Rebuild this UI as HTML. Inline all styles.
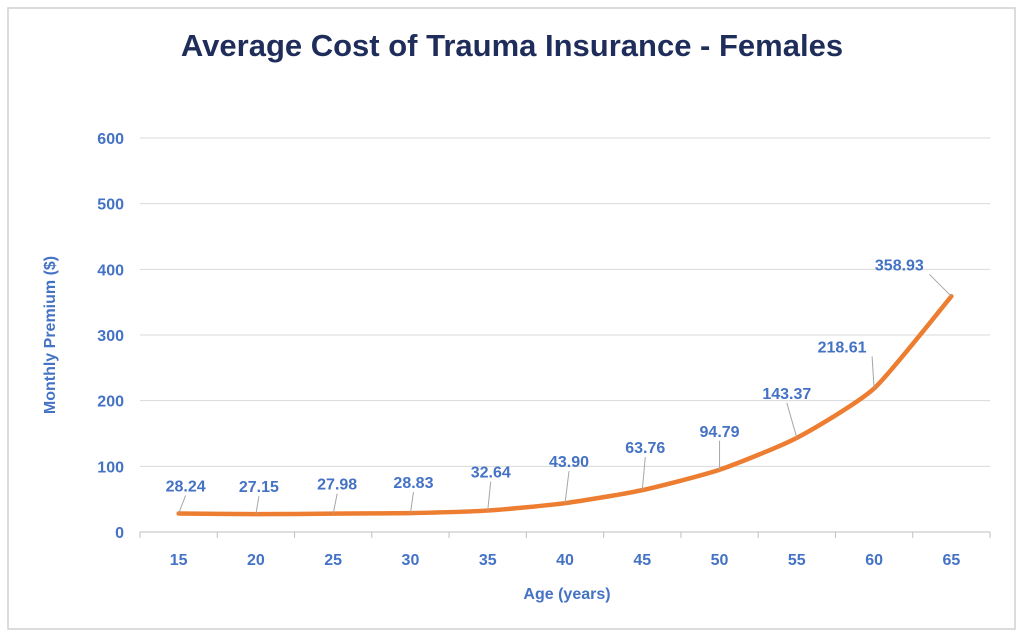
<!DOCTYPE html>
<html><head><meta charset="utf-8"><style>
html,body{margin:0;padding:0;background:#fff;}
svg{display:block;font-family:"Liberation Sans",sans-serif;}
</style></head><body>
<svg id="chart" width="1024" height="638" viewBox="0 0 1024 638">
<rect x="8" y="8" width="1007" height="621" fill="#fff" stroke="#d0d0d0" stroke-width="1.5"/>
<text x="512" y="56" text-anchor="middle" font-size="31" font-weight="bold" fill="#1f2d5a">Average Cost of Trauma Insurance - Females</text>
<g id="grid"></g><g id="axes"></g><g id="series"></g><g id="labels"></g>
<text x="567" y="599" text-anchor="middle" font-size="16" font-weight="bold" fill="#4472c4">Age (years)</text>
<text transform="translate(55,335) rotate(-90)" text-anchor="middle" font-size="16" font-weight="bold" fill="#4472c4">Monthly Premium ($)</text>
</svg>
<script>
const categories=[15,20,25,30,35,40,45,50,55,60,65];
const premiums=[28.24,27.15,27.98,28.83,32.64,43.90,63.76,94.79,143.37,218.61,358.93];
const priceLabels=["28.24","27.15","27.98","28.83","32.64","43.90","63.76","94.79","143.37","218.61","358.93"];
const yTicks=[0,100,200,300,400,500,600];
const labelDx=[7,3,4,3,3,4,3,0,-10,-32,-52];
const labelDy=[22,22,24,25,33,36,37,33,39,36,26];
const NS="http://www.w3.org/2000/svg";
const X0=140,X1=990,Y0=532,Y1=138,YMAX=600;
const bw=(X1-X0)/categories.length;
const xs=i=>X0+bw*(i+0.5);
const ys=v=>Y0-(v/YMAX)*(Y0-Y1);
function mk(t,a,p){const e=document.createElementNS(NS,t);for(const k in a)e.setAttribute(k,a[k]);p.appendChild(e);return e;}
const grid=document.getElementById('grid'),axes=document.getElementById('axes'),ser=document.getElementById('series'),lab=document.getElementById('labels');
yTicks.forEach(v=>{
 const l=mk('line',{x1:X0,x2:X1,y1:ys(v),y2:ys(v),stroke:v===0?'#bfbfbf':'#d9d9d9','stroke-width':1},grid);
 
 
 const t=mk('text',{x:X0-16,y:ys(v)+6,'text-anchor':'end','font-size':16,'font-weight':'bold',fill:'#4472c4'},axes);
 t.textContent=v;
 
 
});
for(let i=0;i<=categories.length;i++){
 const tk=mk('line',{x1:X0+bw*i,x2:X0+bw*i,y1:Y0,y2:Y0+6,stroke:'#bfbfbf'},axes);
 
 
}
categories.forEach((c,i)=>{
 const t=mk('text',{x:xs(i),y:Y0+33,'text-anchor':'middle','font-size':16,'font-weight':'bold',fill:'#4472c4'},axes);
 t.textContent=c;
 
 
});
const pts=premiums.map((v,i)=>[xs(i),ys(v)]);
let d='M'+pts[0][0]+','+pts[0][1];
for(let i=0;i<pts.length-1;i++){
 const p0=pts[Math.max(0,i-1)],p1=pts[i],p2=pts[i+1],p3=pts[Math.min(pts.length-1,i+2)];
 const k=10;
 const c1=[p1[0]+(p2[0]-p0[0])/k,p1[1]+(p2[1]-p0[1])/k],c2=[p2[0]-(p3[0]-p1[0])/k,p2[1]-(p3[1]-p1[1])/k];
 d+=' C'+c1+' '+c2+' '+p2;
}
const path=mk('path',{d:d,fill:'none',stroke:'#ed7d31','stroke-width':4.5,'stroke-linecap':'round','stroke-linejoin':'round'},ser);


premiums.forEach((v,i)=>{
 const px=xs(i),py=ys(v),lx=px+labelDx[i],ly=py-labelDy[i];
 const ll=mk('line',{x1:lx-(labelDx[i]<-20?-30:0),y1:ly+4,x2:px,y2:py,stroke:'#a6a6a6','stroke-width':1},lab);
 
 
 const t=mk('text',{x:lx,y:ly,'text-anchor':'middle','font-size':16,'font-weight':'bold',fill:'#4472c4'},lab);
 t.textContent=priceLabels[i];
 
 
});
</script>
</body></html>
